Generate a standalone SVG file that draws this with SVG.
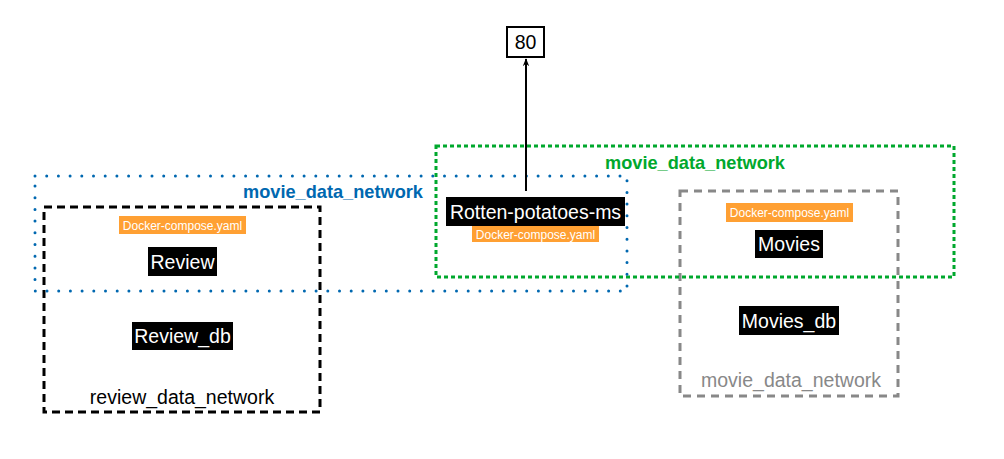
<svg xmlns="http://www.w3.org/2000/svg" width="1004" height="459" viewBox="0 0 1004 459">
<defs>
<marker id="arrow" viewBox="0 0 10 10" refX="9" refY="5" markerWidth="8" markerHeight="8" markerUnits="userSpaceOnUse" orient="auto"><path d="M0,1 L10,5 L0,9 L3,5 z" fill="#000"/></marker>
</defs>
<style>
text{font-family:"Liberation Sans",Arial,sans-serif}
.net{fill:none;stroke-width:3}
.lbl{fill:#000}
.lbltext{fill:#fff;font-size:19.5px;text-anchor:middle}
.dc{fill:#ffa033}
.dctext{fill:#fff;font-size:12px;text-anchor:middle}
.nettext{font-size:19.5px;text-anchor:middle}
.nettext.bold{font-size:18.2px;font-weight:bold}
</style>
<rect width="1004" height="459" fill="#fff"/>
<g id="review_data_network">
<rect x="44" y="207" width="276" height="205" class="net" stroke="#000" stroke-dasharray="8 5"/>
<text x="182" y="404" class="nettext" fill="#000">review_data_network</text>
</g>
<g id="movie_data_network_gray">
<rect x="680" y="191" width="218" height="205" class="net" stroke="#888" stroke-dasharray="8 6"/>
<text x="791" y="387" class="nettext" fill="#888">movie_data_network</text>
</g>
<g id="movie_data_network_green">
<rect x="436" y="146" width="518" height="131" class="net" stroke="#00a82d" stroke-dasharray="4 3"/>
<text x="695" y="169" class="nettext bold" fill="#00a82d">movie_data_network</text>
</g>
<g id="movie_data_network_blue">
<rect x="35" y="176" width="592" height="115" class="net" stroke="#0068b0" stroke-dasharray="0 11.7" stroke-linecap="round"/>
<text x="333" y="198" class="nettext bold" fill="#0068b0">movie_data_network</text>
</g>
<g id="review">
<rect x="119" y="216" width="127" height="18" class="dc"/>
<text x="182.5" y="229.5" class="dctext">Docker-compose.yaml</text>
<rect x="148" y="247" width="69" height="29" class="lbl"/>
<text x="182.5" y="268.5" class="lbltext">Review</text>
</g>
<g id="review_db">
<rect x="132" y="322" width="101" height="28" class="lbl"/>
<text x="182.5" y="343" class="lbltext">Review_db</text>
</g>
<g id="rotten_potatoes_ms">
<rect x="446" y="197" width="179" height="29" class="lbl"/>
<text x="535.5" y="218.5" class="lbltext">Rotten-potatoes-ms</text>
<rect x="472" y="226" width="127" height="16" class="dc"/>
<text x="535.5" y="238.5" class="dctext">Docker-compose.yaml</text>
</g>
<g id="movies">
<rect x="726" y="203" width="127" height="19" class="dc"/>
<text x="789.5" y="216.5" class="dctext">Docker-compose.yaml</text>
<rect x="755" y="230" width="68" height="28" class="lbl"/>
<text x="789" y="251" class="lbltext">Movies</text>
</g>
<g id="movies_db">
<rect x="739" y="306" width="100" height="29" class="lbl"/>
<text x="789" y="327.5" class="lbltext">Movies_db</text>
</g>
<g id="port80">
<rect x="507" y="27" width="37" height="30" fill="#fff" stroke="#000" stroke-width="2"/>
<text x="525.5" y="49" font-size="19.5" text-anchor="middle" fill="#000">80</text>
</g>
<g id="connectors">
<line x1="526" y1="191" x2="526" y2="59" stroke="#000" stroke-width="2" marker-end="url(#arrow)"/>
</g>
</svg>
